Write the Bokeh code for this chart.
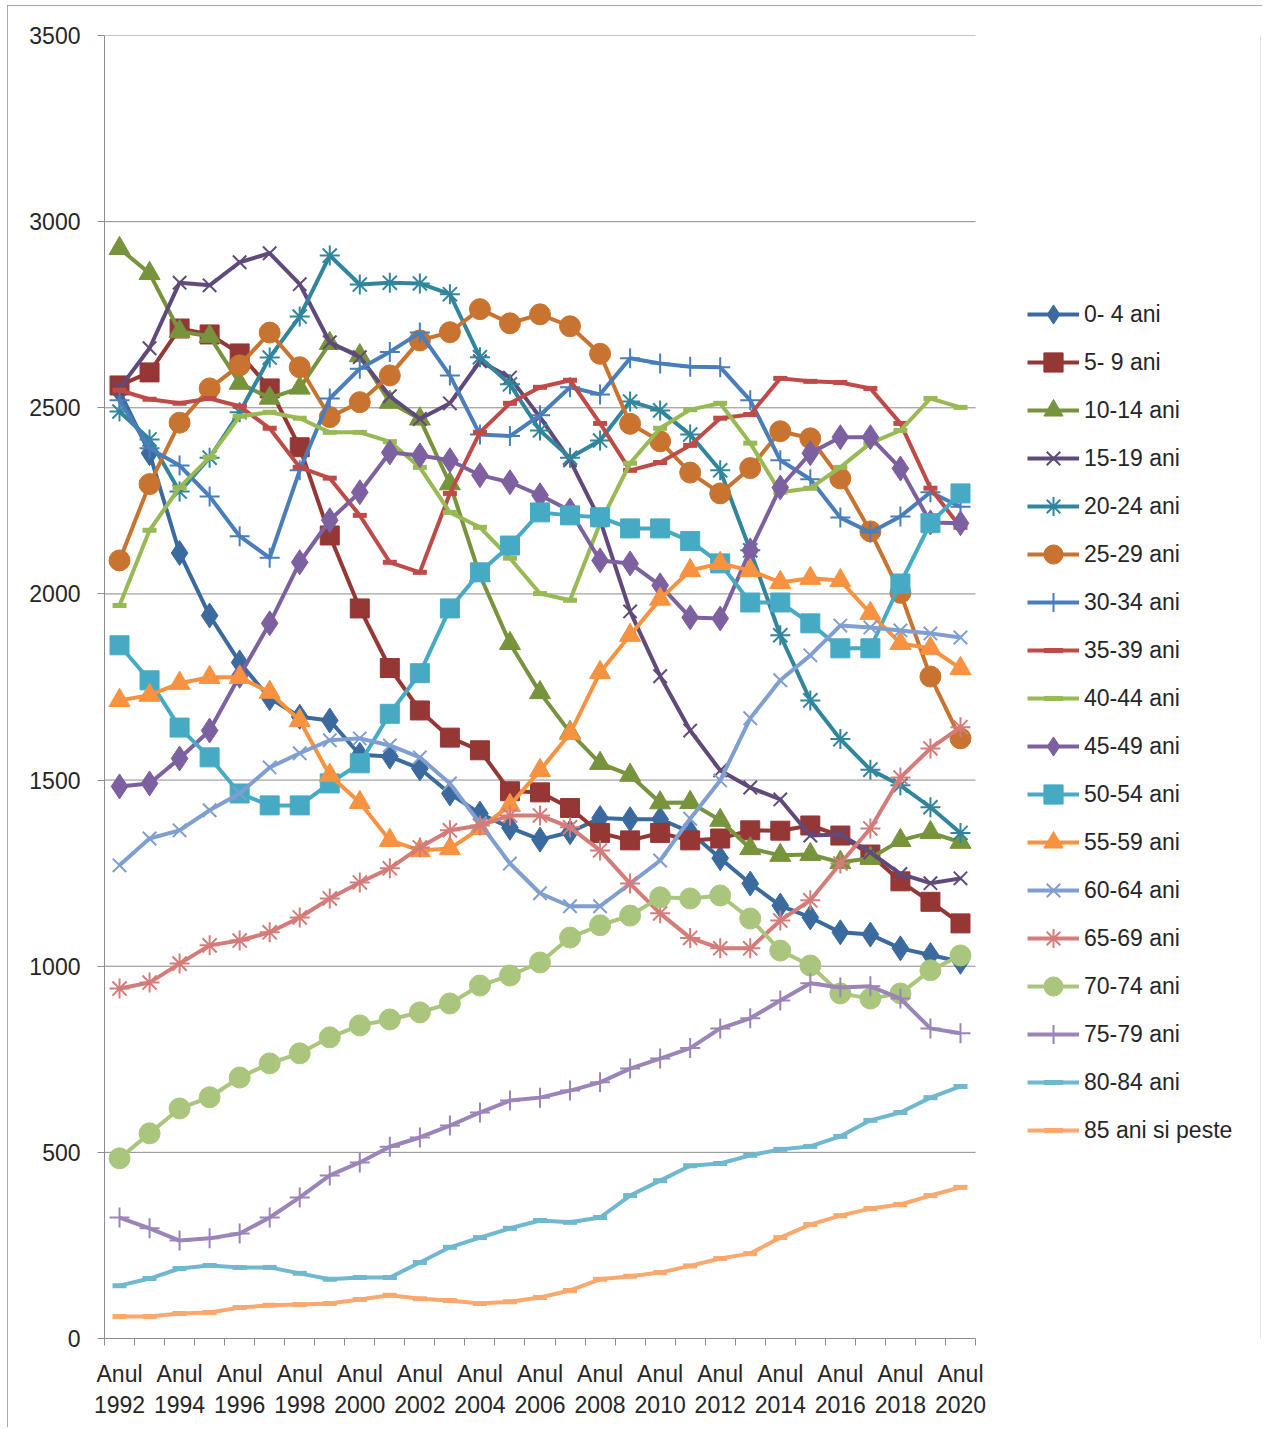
from bokeh.plotting import figure
from bokeh.models import Legend, LegendItem, FixedTicker, Range1d
from bokeh.embed import file_html
from bokeh.resources import INLINE

years = list(range(1992, 2021))
label_years = list(range(1992, 2021, 2))
y_ticks = [0, 500, 1000, 1500, 2000, 2500, 3000, 3500]

names = ["0- 4 ani", "5- 9 ani", "10-14 ani", "15-19 ani", "20-24 ani", "25-29 ani",
         "30-34 ani", "35-39 ani", "40-44 ani", "45-49 ani", "50-54 ani", "55-59 ani",
         "60-64 ani", "65-69 ani", "70-74 ani", "75-79 ani", "80-84 ani", "85 ani si peste"]

a0_4 = [2545, 2378, 2110, 1942, 1816, 1720, 1670, 1660, 1568, 1563, 1531, 1464, 1410, 1372, 1340,
        1360, 1398, 1395, 1395, 1360, 1290, 1222, 1163, 1131, 1091, 1085, 1048, 1030, 1012]
a5_9 = [2560, 2595, 2713, 2697, 2646, 2552, 2394, 2157, 1961, 1801, 1687, 1614, 1580, 1470, 1467,
        1425, 1358, 1338, 1358, 1338, 1343, 1365, 1364, 1378, 1351, 1300, 1228, 1173, 1115]
a10_14 = [2928, 2861, 2705, 2692, 2566, 2526, 2553, 2673, 2640, 2515, 2470, 2296, 2050, 1867, 1735,
          1628, 1545, 1513, 1439, 1440, 1392, 1316, 1298, 1300, 1279, 1290, 1338, 1359, 1333]
a15_19 = [2552, 2660, 2836, 2829, 2891, 2915, 2832, 2676, 2636, 2531, 2470, 2512, 2625, 2581, 2475,
          2359, 2198, 1953, 1779, 1633, 1526, 1480, 1448, 1351, 1354, 1306, 1248, 1223, 1236]
a20_24 = [2490, 2415, 2275, 2366, 2488, 2635, 2745, 2909, 2831, 2836, 2834, 2805, 2636, 2563, 2439,
          2366, 2412, 2517, 2493, 2428, 2332, 2117, 1889, 1714, 1610, 1528, 1486, 1427, 1358]
a25_29 = [2090, 2295, 2460, 2552, 2614, 2702, 2609, 2475, 2515, 2587, 2681, 2703, 2765, 2727, 2751,
          2719, 2645, 2457, 2410, 2326, 2270, 2338, 2437, 2418, 2310, 2168, 2003, 1778, 1612]
a30_34 = [2520, 2391, 2345, 2262, 2155, 2097, 2332, 2525, 2605, 2650, 2702, 2587, 2428, 2424, 2480,
          2555, 2536, 2633, 2619, 2610, 2609, 2520, 2359, 2308, 2205, 2165, 2208, 2273, 2234]
a35_39 = [2547, 2523, 2512, 2525, 2504, 2445, 2340, 2311, 2211, 2085, 2058, 2270, 2434, 2512, 2555,
          2574, 2458, 2332, 2353, 2399, 2472, 2482, 2579, 2571, 2568, 2552, 2458, 2284, 2179]
a40_44 = [1969, 2171, 2286, 2367, 2477, 2488, 2472, 2434, 2434, 2409, 2340, 2219, 2179, 2096, 2001,
          1983, 2190, 2351, 2445, 2495, 2512, 2405, 2273, 2284, 2340, 2405, 2439, 2525, 2501]
a45_49 = [1483, 1491, 1558, 1633, 1780, 1921, 2085, 2198, 2273, 2380, 2372, 2359, 2319, 2300, 2265,
          2224, 2090, 2082, 2023, 1937, 1934, 2117, 2286, 2378, 2421, 2421, 2337, 2192, 2190]
a50_54 = [1862, 1768, 1641, 1561, 1464, 1432, 1432, 1491, 1545, 1678, 1787, 1961, 2058, 2130, 2219,
          2211, 2206, 2176, 2176, 2142, 2082, 1977, 1977, 1921, 1854, 1854, 2028, 2190, 2270]
a55_59 = [1714, 1728, 1760, 1776, 1776, 1736, 1660, 1513, 1440, 1338, 1311, 1316, 1370, 1432, 1526,
          1625, 1789, 1889, 1986, 2063, 2082, 2063, 2031, 2042, 2036, 1948, 1867, 1854, 1800]
a60_64 = [1271, 1343, 1365, 1419, 1464, 1534, 1572, 1607, 1612, 1593, 1561, 1491, 1384, 1276, 1196,
          1161, 1161, 1222, 1284, 1396, 1499, 1666, 1768, 1835, 1915, 1910, 1902, 1894, 1883]
a65_69 = [940, 956, 1007, 1056, 1069, 1091, 1131, 1182, 1225, 1263, 1319, 1365, 1378, 1405, 1405,
          1373, 1311, 1222, 1142, 1076, 1048, 1048, 1123, 1177, 1276, 1370, 1507, 1585, 1642]
a70_74 = [484, 551, 618, 648, 701, 739, 766, 809, 841, 857, 876, 900, 948, 975, 1010,
          1077, 1110, 1136, 1185, 1182, 1190, 1128, 1042, 1002, 927, 913, 927, 989, 1029]
a75_79 = [325, 296, 263, 269, 282, 325, 379, 438, 473, 515, 540, 572, 607, 639, 647,
          666, 688, 725, 752, 780, 833, 860, 908, 954, 943, 946, 913, 833, 820]
a80_84 = [142, 161, 188, 196, 191, 191, 175, 159, 164, 164, 204, 245, 271, 296, 317,
          312, 325, 384, 424, 464, 470, 492, 508, 516, 543, 586, 607, 647, 677]
a85 = [59, 59, 67, 70, 83, 89, 91, 94, 105, 116, 107, 102, 94, 99, 110,
       129, 159, 167, 177, 195, 215, 228, 271, 306, 330, 349, 360, 384, 406]

series = [a0_4, a5_9, a10_14, a15_19, a20_24, a25_29, a30_34, a35_39, a40_44, a45_49,
          a50_54, a55_59, a60_64, a65_69, a70_74, a75_79, a80_84, a85]

colors = ["#3A6A9E", "#953735", "#77933C", "#604A7B", "#31859C", "#C8732F",
          "#4A7EBB", "#BE4B48", "#98B954", "#7D60A0", "#46AAC5", "#F69240",
          "#7F9FD0", "#D37C7A", "#AAC67C", "#9A84B8", "#6FB8CF", "#F9A86E"]
markers = ["diamond", "square", "triangle", "x", "asterisk", "circle",
           "cross", "dash", "dash", "diamond", "square", "triangle",
           "x", "asterisk", "circle", "cross", "dash", "dash"]
msizes = [25, 19, 21, 19, 20, 21, 20, 14, 14, 25, 19, 21, 19, 20, 21, 20, 14, 14]

FONT = "Liberation Sans"
GRAY = "#8c8c8c"

# Layout: the plotting frame is extended to the right so the legend can sit inside it;
# the data area (categories 1992..2020) occupies the left 871 px of the 1156 px frame.
FIG_W, FIG_H = 1255, 1422
B_LEFT, B_RIGHT, B_TOP, B_BOTTOM = 97, 2, 30, 89
FRAME_W = FIG_W - B_LEFT - B_RIGHT
DATA_W = 871
x0 = years[0] - 0.5
x1 = years[-1] + 0.5
x_end = x0 + (x1 - x0) * FRAME_W / DATA_W

p = figure(width=FIG_W, height=FIG_H, output_backend="svg", toolbar_location=None,
           x_range=Range1d(x0, x_end), y_range=Range1d(0, 3500),
           min_border_left=B_LEFT, min_border_right=B_RIGHT,
           min_border_top=B_TOP, min_border_bottom=B_BOTTOM)
p.outline_line_color = None
p.background_fill_color = "white"
p.border_fill_color = "white"
p.styles = {"margin-left": "7px", "margin-top": "5px",
            "outline": "2px solid #8c8c8c", "outline-offset": "-2px"}
p.xgrid.visible = False
p.ygrid.visible = False

# horizontal gridlines limited to the data area
grid_vals = y_ticks[1:]
p.segment(x0=[x0] * len(grid_vals), y0=grid_vals, x1=[x1] * len(grid_vals), y1=grid_vals,
          line_color=GRAY, line_width=1)

p.yaxis.ticker = FixedTicker(ticks=y_ticks)
p.yaxis.axis_line_color = GRAY
p.yaxis.major_tick_line_color = GRAY
p.yaxis.major_tick_out = 7
p.yaxis.major_tick_in = 0
p.yaxis.minor_tick_line_color = None
p.yaxis.major_label_standoff = 17
p.yaxis.major_label_text_font = FONT
p.yaxis.major_label_text_font_size = "23px"
p.yaxis.major_label_text_color = "#262626"

p.xaxis.bounds = (x0, x1)
p.xaxis.ticker = FixedTicker(ticks=label_years, minor_ticks=[y - 0.5 for y in years] + [x1])
p.xaxis.axis_line_color = GRAY
p.xaxis.major_tick_line_color = None
p.xaxis.major_tick_out = 0
p.xaxis.major_tick_in = 0
p.xaxis.minor_tick_line_color = GRAY
p.xaxis.minor_tick_out = 7
p.xaxis.minor_tick_in = 0
p.xaxis.major_label_overrides = {y: "Anul\n%d" % y for y in label_years}
p.xaxis.major_label_standoff = 15
p.xaxis.major_label_text_font = FONT
p.xaxis.major_label_text_font_size = "23px"
p.xaxis.major_label_text_color = "#262626"
p.xaxis.major_label_text_align = "center"

items = []
for name, vals, col, mk, ms in zip(names, series, colors, markers, msizes):
    r_line = p.line(years, vals, line_color=col, line_width=4, line_join="round")
    if mk in ("x", "asterisk", "cross"):
        r_mk = p.scatter(years, vals, marker=mk, size=ms, line_color=col, line_width=2,
                         fill_color=None)
    elif mk == "dash":
        r_mk = p.scatter(years, vals, marker=mk, size=ms, line_color=col, line_width=5)
    else:
        r_mk = p.scatter(years, vals, marker=mk, size=ms, line_color=col, fill_color=col,
                         line_width=1)
    items.append(LegendItem(label=name, renderers=[r_line, r_mk]))

legend = Legend(items=items, location=(923, 184), orientation="vertical", padding=0, margin=0,
                spacing=0, glyph_width=52, glyph_height=48, label_height=48, label_standoff=5,
                label_text_font=FONT, label_text_font_size="23px", label_text_color="#262626",
                border_line_color=None, background_fill_alpha=0)
p.add_layout(legend)

open("out.html", "w").write(file_html(p, INLINE))
